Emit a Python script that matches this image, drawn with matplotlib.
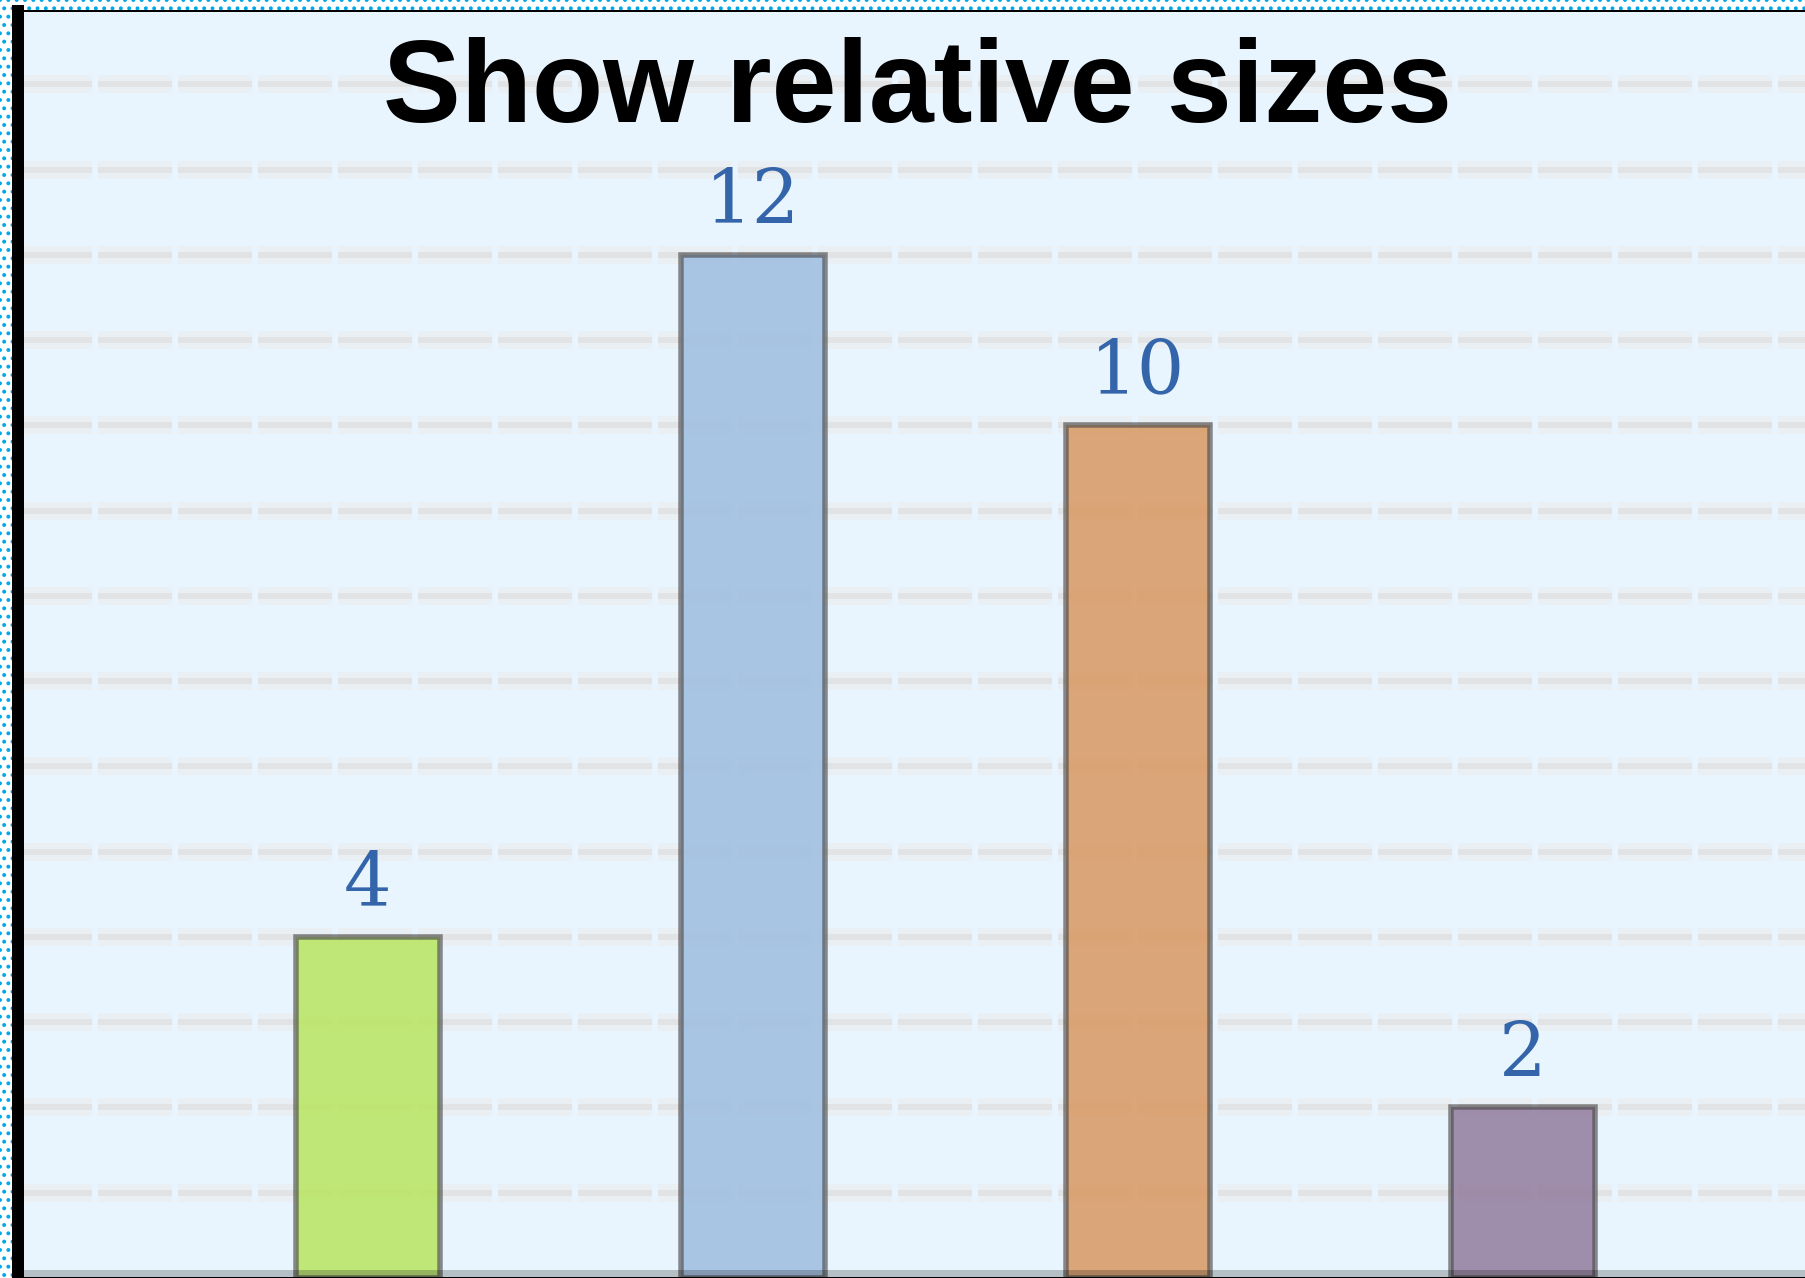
import matplotlib
matplotlib.use("Agg")
import matplotlib.pyplot as plt
from matplotlib.patches import Rectangle
from matplotlib import patheffects as pe
from matplotlib.colors import to_rgba
import numpy as np

plt.rcParams['lines.scale_dashes'] = False
plt.rcParams['hatch.linewidth'] = 1.6

# data
values = [4, 12, 10, 2]
bar_colors = ['#bae665', '#a0bfe1', '#d99a65', '#947fa0']
title = 'Show relative sizes'

W, H = 1806, 1278
fig = plt.figure(figsize=(W / 100, H / 100), dpi=100)
fig.patch.set_facecolor('white')

# dotted blue frame behind everything
fig.patches.append(Rectangle((0, 0), 1, 1, transform=fig.transFigure,
                             facecolor='white', edgecolor='#00a8e8',
                             hatch='..', linewidth=0, zorder=-10))

ax = fig.add_axes([18 / W, 0, 1 - 18 / W, 1 - 11 / H])
ax.set_facecolor('#e8f5fe')

x = np.arange(len(values))
ax.bar(x, values, width=0.374,
       color=[to_rgba(c, 0.88) for c in bar_colors],
       edgecolor=(0.3, 0.3, 0.3, 0.65), linewidth=5.5 * 0.72, zorder=2)

for xi, v in zip(x, values):
    ax.annotate(str(v), (xi, v), xytext=(0, 23), textcoords='offset points',
                ha='center', va='baseline', fontsize=54,
                family='DejaVu Serif', color='#3465aa')

ax.set_xlim(-0.909, 3.735)
ax.set_ylim(0, 14.86)
ax.set_yticks(range(1, 15))
ax.tick_params(left=False, bottom=False, labelleft=False, labelbottom=False)
ax.set_axisbelow(True)
ax.grid(axis='y', color='#e2e3e5', linewidth=6 * 0.72,
        linestyle=(0, (53.3, 4.3)),
        path_effects=[pe.Stroke(linewidth=18 * 0.72, foreground='#e9eff3'),
                      pe.Normal()])
ax.grid(axis='x', visible=False)

ax.spines['right'].set_visible(False)
ax.spines['left'].set_linewidth(12 * 0.72)
ax.spines['left'].set_color('black')
ax.spines['top'].set_linewidth(2 * 0.72)
ax.spines['top'].set_color('black')
ax.spines['bottom'].set_linewidth(2 * 0.72)
ax.spines['bottom'].set_color('black')

# grey band along the bottom edge
fig.patches.append(Rectangle((12 / W, 1 / H), 1, 7 / H, transform=fig.transFigure,
                             facecolor=(0, 0, 0, 0.22), linewidth=0, zorder=5))

fig.text(917.5 / W, 1 - 122 / H, title, ha='center', va='baseline',
         fontsize=84, fontweight='bold', family='Liberation Sans', color='black')

fig.savefig('out.png', dpi=100)
